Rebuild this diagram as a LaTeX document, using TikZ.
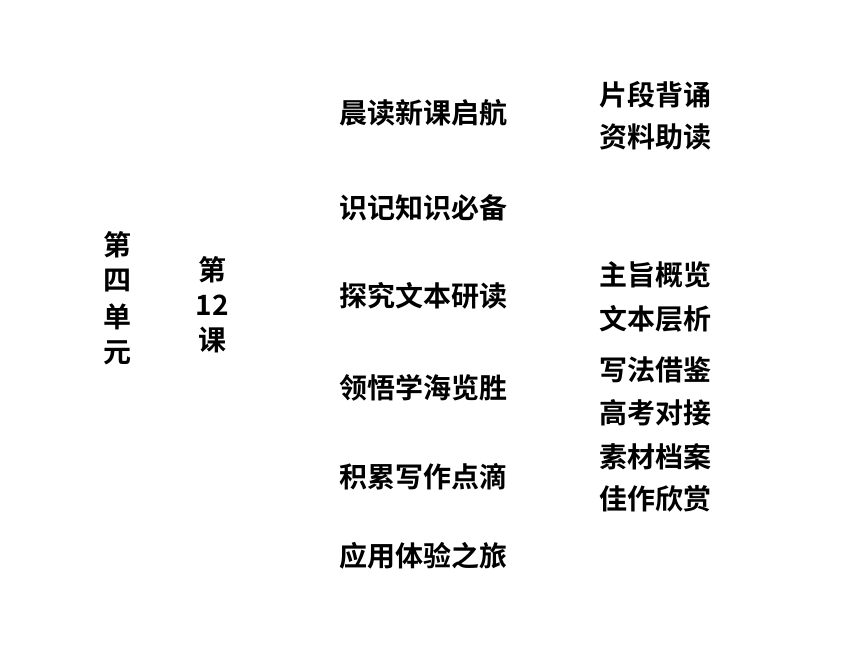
\documentclass[tikz,border=0pt]{standalone}
\usepackage{fontspec}
\newfontfamily\cjk[BoldFont={Noto Sans CJK SC Bold}]{Noto Sans CJK SC}
\begin{document}
\begin{tikzpicture}[x=1pt,y=-1pt,
  lbl/.style={inner sep=0pt,font=\cjk\bfseries\fontsize{28}{32}\selectfont},
  lft/.style={lbl,anchor=west}]
\useasboundingbox (0,0) rectangle (860,645);
\node[lbl] (u1) at (117,245) {第};
\node[lbl] (u2) at (117,281) {四};
\node[lbl] (u3) at (117,317) {单};
\node[lbl] (u4) at (117,353) {元};
\node[lbl] (k1) at (212,270) {第};
\node[lbl] (k2) at (212,305) {12};
\node[lbl] (k3) at (212,340) {课};
\node[lft] (m1) at (339,113) {晨读新课启航};
\node[lft] (m2) at (339,208) {识记知识必备};
\node[lft] (m3) at (339,296) {探究文本研读};
\node[lft] (m4) at (339,388) {领悟学海览胜};
\node[lft] (m5) at (339,477) {积累写作点滴};
\node[lft] (m6) at (339,556) {应用体验之旅};
\node[lft] (r1) at (599,95) {片段背诵};
\node[lft] (r2) at (599,137) {资料助读};
\node[lft] (r3) at (599,275) {主旨概览};
\node[lft] (r4) at (599,319) {文本层析};
\node[lft] (r5) at (599,370) {写法借鉴};
\node[lft] (r6) at (599,413) {高考对接};
\node[lft] (r7) at (599,457) {素材档案};
\node[lft] (r8) at (599,499) {佳作欣赏};
\end{tikzpicture}
\end{document}
